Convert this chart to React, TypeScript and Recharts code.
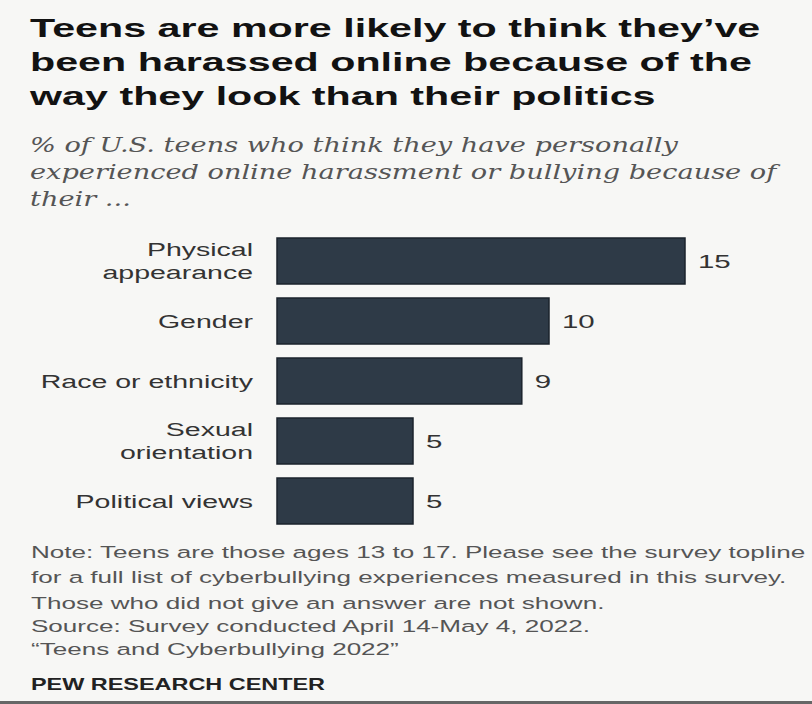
import React from "react"
import { BarChart, Bar, XAxis, YAxis, LabelList } from "recharts"

const categories = [
  "Physical\nappearance",
  "Gender",
  "Race or ethnicity",
  "Sexual\norientation",
  "Political views",
]
const shares = [15, 10, 9, 5, 5]

const data = categories.map((c, i) => ({ category: c, value: shares[i] }))

const titleLines = [
  "Teens are more likely to think they\u2019ve",
  "been harassed online because of the",
  "way they look than their politics",
]
const subtitleLines = [
  "% of U.S. teens who think they have personally",
  "experienced online harassment or bullying because of",
  "their ...",
]
const noteLines = [
  "Note: Teens are those ages 13 to 17. Please see the survey topline",
  "for a full list of cyberbullying experiences measured in this survey.",
  "Those who did not give an answer are not shown.",
  "Source: Survey conducted April 14-May 4, 2022.",
  "\u201cTeens and Cyberbullying 2022\u201d",
]
const credit = "PEW RESEARCH CENTER"

const sans = "'Liberation Sans', Arial, sans-serif"
const serif = "'DejaVu Serif', Georgia, serif"

// the source picture is stretched sideways, so text gets a horizontal scale
const stretch = (x: number, y: number, sx: number) =>
  `translate(${x},${y}) scale(${sx},1)`

const titleBase = [37, 71, 105]
const subtitleBase = [152, 179, 206]
const noteBase = [558, 583, 609, 632, 655]

function CategoryTick(props: any) {
  const { y, payload } = props
  const lines = String(payload.value).split("\n")
  const lh = 23
  const y0 = y - ((lines.length - 1) * lh) / 2
  return (
    <g>
      {lines.map((l, i) => (
        <text
          key={i}
          transform={stretch(253, y0 + i * lh, 1.5)}
          textAnchor="end"
          dy="0.35em"
          fill="#333"
          fontSize={19}
          fontFamily={sans}
        >
          {l}
        </text>
      ))}
    </g>
  )
}

function ValueLabel(props: any) {
  const { x, y, width, height, value } = props
  return (
    <text
      transform={stretch(x + width + 13, y + height / 2, 1.55)}
      dy="0.35em"
      fill="#333"
      fontSize={19}
      fontFamily={sans}
    >
      {value}
    </text>
  )
}

export default function App() {
  return (
    <div
      style={{
        position: "absolute",
        left: 0,
        top: 0,
        width: 812,
        height: 704,
        background: "#f7f7f5",
        overflow: "hidden",
      }}
    >
      <div style={{ position: "absolute", left: 0, top: 231 }}>
        <BarChart
          width={812}
          height={300}
          data={data}
          layout="vertical"
          margin={{ top: 0, right: 127, bottom: 0, left: 0 }}
        >
          <XAxis type="number" domain={[0, 15]} hide />
          <YAxis
            type="category"
            dataKey="category"
            width={277}
            axisLine={false}
            tickLine={false}
            tick={<CategoryTick />}
          />
          <Bar
            dataKey="value"
            fill="#2e3a47"
            stroke="#1b232c"
            strokeWidth={1.5}
            barSize={46}
            isAnimationActive={false}
          >
            <LabelList dataKey="value" content={<ValueLabel />} />
          </Bar>
        </BarChart>
      </div>

      <svg
        width={812}
        height={704}
        style={{ position: "absolute", left: 0, top: 0, pointerEvents: "none" }}
      >
        {titleLines.map((l, i) => (
          <text
            key={"t" + i}
            transform={stretch(30, titleBase[i], 1.65)}
            fontFamily={sans}
            fontWeight={700}
            fontSize={25}
            fill="#121212"
          >
            {l}
          </text>
        ))}
        {subtitleLines.map((l, i) => (
          <text
            key={"s" + i}
            transform={stretch(30, subtitleBase[i], 1.36)}
            fontFamily={serif}
            fontStyle="italic"
            fontSize={20}
            fill="#555"
          >
            {l}
          </text>
        ))}
        {noteLines.map((l, i) => (
          <text
            key={"n" + i}
            transform={stretch(31, noteBase[i], 1.58)}
            fontFamily={sans}
            fontSize={16.5}
            fill="#555"
          >
            {l}
          </text>
        ))}
        <text
          transform={stretch(31, 690, 1.42)}
          fontFamily={sans}
          fontWeight={700}
          fontSize={16.5}
          fill="#222"
        >
          {credit}
        </text>
        <rect x={0} y={701} width={812} height={3} fill="#666" />
      </svg>
    </div>
  )
}
